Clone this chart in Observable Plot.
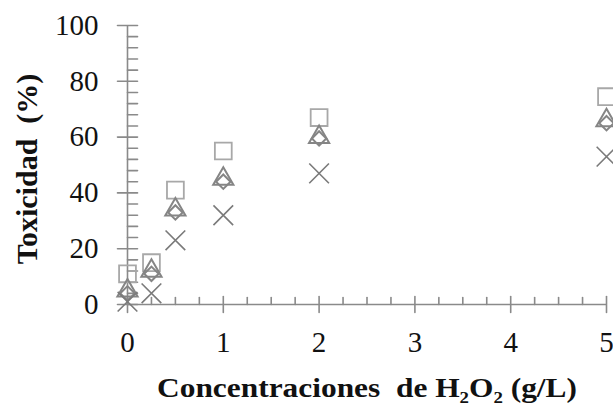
<!DOCTYPE html>
<html>
<head>
<meta charset="utf-8">
<script src="https://cdn.jsdelivr.net/npm/d3@7"></script>
<script src="https://cdn.jsdelivr.net/npm/@observablehq/plot@0.6"></script>
<style>
  html, body { margin: 0; padding: 0; background: #fff; }
  #chart svg { display: block; }
  #chart svg text { font-family: "Liberation Serif", "Times New Roman", serif; }
</style>
</head>
<body>
<div id="chart"></div>
<script>
// Data
const concentrations = [0, 0.25, 0.5, 1, 2, 5];
const seriesSquare   = [11, 15, 41, 55, 67, 74.5];
const seriesTriangle = [5, 12, 34, 45, 60, 66];
const seriesDiamond  = [4, 11, 33, 44, 59.5, 65];
const seriesTimes    = [1, 4, 23, 32, 47, 53];

const xMajorTicks = [0, 1, 2, 3, 4, 5];
const xMinorTicks = d3.range(0, 5.001, 0.25).filter(v => Math.abs(v - Math.round(v)) > 1e-9);
const yMajorTicks = [0, 20, 40, 60, 80, 100];
const yMinorTicks = d3.range(0, 100.001, 4).filter(v => v % 20 !== 0);

const xTitle = "Concentraciones  de H₂O₂ (g/L)";
const yTitle = "Toxicidad  (%)";

const rows = (ys, name) => concentrations.map((c, i) => ({x: c, y: ys[i], s: name}));

const axisGray = "#8a8a8a";
const font = "Liberation Serif, Times New Roman, serif";

// custom tick shapes (pixel lengths)
const tickCross = {draw(ctx, l) { ctx.moveTo(0, l); ctx.lineTo(0, -l); }};
const tickUp = {draw(ctx, l) { ctx.moveTo(0, 0); ctx.lineTo(0, -l); }};

const plot = Plot.plot({
  width: 613,
  height: 403,
  marginLeft: 127,
  marginRight: 7,
  marginTop: 25,
  marginBottom: 99,
  style: {fontFamily: font, background: "#fff"},
  x: {domain: [0, 5], axis: null},
  y: {domain: [0, 100], axis: null},
  marks: [
    // axis lines
    Plot.ruleY([0], {stroke: axisGray, strokeWidth: 1.6}),
    Plot.ruleX([0], {stroke: axisGray, strokeWidth: 1.6}),
    // x ticks
    Plot.vector(xMajorTicks, {x: d => d, y: 0, length: 8, shape: tickCross, anchor: "start", stroke: axisGray, strokeWidth: 1.6}),
    Plot.vector(xMinorTicks, {x: d => d, y: 0, length: 7, shape: tickUp, anchor: "start", stroke: axisGray, strokeWidth: 1.6}),
    // y ticks
    Plot.vector(yMajorTicks, {x: 0, y: d => d, length: 10, rotate: 90, shape: tickCross, anchor: "start", stroke: axisGray, strokeWidth: 1.6}),
    Plot.vector(yMinorTicks, {x: 0, y: d => d, length: 10, rotate: 90, shape: tickUp, anchor: "start", stroke: axisGray, strokeWidth: 1.6}),
    // tick labels
    Plot.text(xMajorTicks, {x: d => d, y: 0, text: d => String(d), dy: 38, fontSize: 29, fontFamily: font, fill: "#111"}),
    Plot.text(yMajorTicks, {x: 0, y: d => d, text: d => String(d), dx: -29, textAnchor: "end", fontSize: 29, fontFamily: font, fill: "#111"}),
    // titles
    Plot.text([xTitle], {frameAnchor: "bottom", dy: 84, lineAnchor: "middle", textAnchor: "middle", fontSize: 28, fontWeight: "bold", fontFamily: font, fill: "#111", className: "xtitle"}),
    Plot.text([yTitle], {frameAnchor: "left", dx: -100, dy: 4, rotate: -90, lineAnchor: "middle", textAnchor: "middle", fontSize: 30, fontWeight: "bold", fontFamily: font, fill: "#111"}),
    // data
    Plot.dot(rows(seriesSquare, "A"), {x: "x", y: "y", symbol: "square", r: 9.5, stroke: "#a8a8a8", strokeWidth: 1.8, fill: "none"}),
    Plot.dot(rows(seriesDiamond, "C"), {x: "x", y: "y", symbol: "diamond2", r: 6.5, stroke: "#858585", strokeWidth: 2, fill: "none"}),
    Plot.dot(rows(seriesTriangle, "B"), {x: "x", y: "y", symbol: "triangle", r: 7.5, stroke: "#858585", strokeWidth: 2, fill: "none"}),
    Plot.dot(rows(seriesTimes, "D"), {x: "x", y: "y", symbol: "times", r: 9, stroke: "#7a7a7a", strokeWidth: 1.6, fill: "none"})
  ]
});

// stretch the x title horizontally to match the reference's width
const t = plot.querySelector(".xtitle text");
if (t) { t.setAttribute("textLength", 420); t.setAttribute("lengthAdjust", "spacingAndGlyphs"); }

document.getElementById("chart").appendChild(plot);
</script>
</body>
</html>
